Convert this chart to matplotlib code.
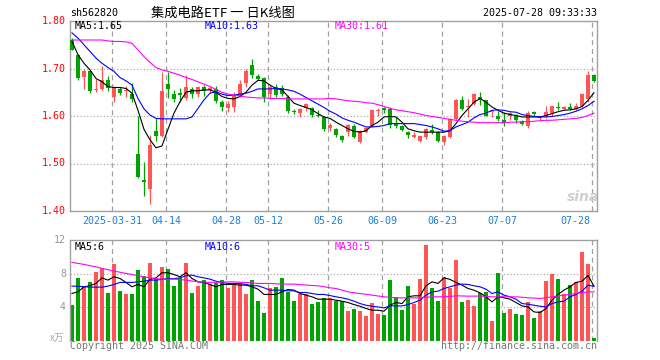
import matplotlib
matplotlib.use("Agg")
import matplotlib.pyplot as plt

# ---- data (index 0 = 2025-03-20) ----
opens = [1.760, 1.729, 1.683, 1.694, 1.655, 1.657, 1.676, 1.640, 1.657, 1.652,
         1.646, 1.520, 1.466, 1.446, 1.568, 1.558, 1.667, 1.646, 1.648, 1.637,
         1.656, 1.647, 1.662, 1.654, 1.656, 1.629, 1.617, 1.620, 1.643, 1.669,
         1.708, 1.685, 1.679, 1.646, 1.662, 1.659, 1.641, 1.610, 1.606, 1.616,
         1.616, 1.603, 1.598, 1.574, 1.572, 1.557, 1.566, 1.580, 1.545, 1.567,
         1.578, 1.610, 1.617, 1.615, 1.584, 1.580, 1.567, 1.555, 1.548, 1.555,
         1.570, 1.567, 1.545, 1.555, 1.594, 1.633, 1.620, 1.626, 1.641, 1.633,
         1.609, 1.601, 1.592, 1.601, 1.603, 1.589, 1.578, 1.608, 1.596, 1.599,
         1.606, 1.620, 1.615, 1.619, 1.615, 1.622, 1.636, 1.687]
closes = [1.740, 1.680, 1.694, 1.653, 1.657, 1.676, 1.660, 1.660, 1.648, 1.654,
          1.636, 1.471, 1.462, 1.538, 1.558, 1.653, 1.656, 1.636, 1.645, 1.662,
          1.646, 1.662, 1.653, 1.659, 1.632, 1.620, 1.626, 1.643, 1.668, 1.694,
          1.686, 1.678, 1.639, 1.662, 1.644, 1.646, 1.610, 1.608, 1.615, 1.625,
          1.603, 1.600, 1.572, 1.581, 1.559, 1.550, 1.580, 1.555, 1.568, 1.574,
          1.613, 1.613, 1.613, 1.582, 1.580, 1.570, 1.559, 1.561, 1.557, 1.572,
          1.567, 1.548, 1.557, 1.594, 1.633, 1.615, 1.622, 1.647, 1.634, 1.601,
          1.611, 1.594, 1.586, 1.607, 1.591, 1.584, 1.607, 1.605, 1.597, 1.608,
          1.622, 1.617, 1.619, 1.615, 1.622, 1.647, 1.687, 1.674]
highs = [1.765, 1.731, 1.698, 1.695, 1.677, 1.706, 1.684, 1.662, 1.662, 1.663,
         1.670, 1.600, 1.503, 1.561, 1.596, 1.692, 1.692, 1.655, 1.660, 1.686,
         1.662, 1.664, 1.666, 1.664, 1.664, 1.634, 1.632, 1.650, 1.675, 1.698,
         1.721, 1.688, 1.682, 1.665, 1.668, 1.665, 1.645, 1.614, 1.617, 1.627,
         1.618, 1.612, 1.600, 1.585, 1.575, 1.560, 1.584, 1.584, 1.570, 1.577,
         1.615, 1.617, 1.619, 1.618, 1.598, 1.582, 1.569, 1.567, 1.558, 1.575,
         1.583, 1.568, 1.560, 1.596, 1.635, 1.643, 1.636, 1.649, 1.650, 1.633,
         1.611, 1.610, 1.608, 1.609, 1.605, 1.591, 1.610, 1.611, 1.601, 1.621,
         1.622, 1.629, 1.622, 1.627, 1.627, 1.649, 1.694, 1.688]
lows = [1.738, 1.676, 1.657, 1.648, 1.651, 1.655, 1.652, 1.630, 1.645, 1.641,
        1.630, 1.469, 1.432, 1.414, 1.548, 1.555, 1.637, 1.630, 1.630, 1.634,
        1.637, 1.640, 1.642, 1.648, 1.628, 1.610, 1.609, 1.608, 1.640, 1.662,
        1.680, 1.675, 1.630, 1.636, 1.640, 1.642, 1.606, 1.604, 1.598, 1.611,
        1.598, 1.598, 1.568, 1.568, 1.556, 1.546, 1.558, 1.553, 1.543, 1.564,
        1.577, 1.601, 1.607, 1.575, 1.575, 1.569, 1.553, 1.554, 1.546, 1.552,
        1.562, 1.546, 1.538, 1.553, 1.591, 1.612, 1.598, 1.624, 1.624, 1.599,
        1.597, 1.590, 1.580, 1.592, 1.586, 1.582, 1.575, 1.600, 1.592, 1.595,
        1.601, 1.613, 1.613, 1.613, 1.613, 1.619, 1.629, 1.671]

ma5 = [1.757, 1.729, 1.711, 1.697, 1.679, 1.672, 1.662, 1.660, 1.660, 1.658,
       1.648, 1.612, 1.572, 1.550, 1.533, 1.537, 1.572, 1.606, 1.630, 1.650,
       1.653, 1.653, 1.655, 1.655, 1.650, 1.641, 1.637, 1.636, 1.641, 1.650,
       1.665, 1.675, 1.674, 1.665, 1.658, 1.655, 1.641, 1.627, 1.622, 1.618,
       1.613, 1.605, 1.598, 1.595, 1.587, 1.580, 1.573, 1.568, 1.566, 1.569,
       1.580, 1.587, 1.598, 1.599, 1.598, 1.587, 1.573, 1.569, 1.566, 1.566,
       1.566, 1.566, 1.566, 1.569, 1.584, 1.601, 1.615, 1.629, 1.637, 1.629,
       1.619, 1.612, 1.606, 1.603, 1.601, 1.598, 1.598, 1.598, 1.598, 1.601,
       1.605, 1.609, 1.612, 1.613, 1.615, 1.620, 1.633, 1.649]
ma10 = [1.775, 1.764, 1.750, 1.736, 1.722, 1.711, 1.702, 1.694, 1.681, 1.674,
        1.665, 1.637, 1.615, 1.602, 1.595, 1.594, 1.594, 1.594, 1.594, 1.594,
        1.598, 1.616, 1.634, 1.648, 1.651, 1.646, 1.643, 1.644, 1.646, 1.648,
        1.652, 1.657, 1.657, 1.657, 1.658, 1.657, 1.655, 1.652, 1.646, 1.639,
        1.632, 1.625, 1.618, 1.610, 1.604, 1.596, 1.591, 1.587, 1.582, 1.577,
        1.577, 1.578, 1.580, 1.584, 1.584, 1.584, 1.584, 1.584, 1.582, 1.580,
        1.577, 1.573, 1.568, 1.569, 1.577, 1.582, 1.587, 1.596, 1.603, 1.606,
        1.612, 1.613, 1.612, 1.609, 1.608, 1.603, 1.601, 1.599, 1.598, 1.598,
        1.599, 1.601, 1.603, 1.606, 1.610, 1.615, 1.622, 1.631]
ma30 = [1.760, 1.760, 1.760, 1.760, 1.760, 1.760, 1.758, 1.757, 1.757, 1.756,
        1.753, 1.739, 1.725, 1.713, 1.702, 1.697, 1.694, 1.690, 1.686, 1.681,
        1.677, 1.672, 1.667, 1.662, 1.656, 1.650, 1.646, 1.644, 1.642, 1.640,
        1.639, 1.638, 1.638, 1.637, 1.637, 1.637, 1.636, 1.636, 1.636, 1.636,
        1.636, 1.636, 1.636, 1.637, 1.636, 1.634, 1.632, 1.631, 1.630, 1.628,
        1.627, 1.624, 1.620, 1.616, 1.613, 1.611, 1.609, 1.607, 1.604, 1.601,
        1.599, 1.597, 1.595, 1.593, 1.591, 1.589, 1.588, 1.587, 1.586, 1.586,
        1.586, 1.586, 1.586, 1.587, 1.587, 1.588, 1.588, 1.589, 1.590, 1.591,
        1.591, 1.592, 1.593, 1.594, 1.595, 1.597, 1.601, 1.606]

volumes = [4.25, 7.5, 6.44, 7.03, 8.22, 8.63, 5.72, 9.14, 5.96, 5.57,
           5.57, 8.43, 7.7, 9.30, 7.32, 8.78, 8.58, 6.52, 7.5, 9.30,
           5.72, 6.52, 7.23, 6.72, 6.84, 7.23, 6.24, 6.64, 6.84, 5.64,
           7.23, 4.73, 3.34, 6.24, 6.44, 7.5, 5.84, 4.73, 5.64, 5.64,
           4.37, 4.65, 5.13, 5.05, 4.73, 4.73, 3.54, 3.78, 3.54, 2.98,
           4.49, 3.26, 3.14, 7.23, 5.17, 3.66, 6.52, 4.45, 7.35, 11.4,
           6.32, 4.73, 7.55, 6.32, 9.62, 4.65, 4.85, 4.17, 5.76, 5.84,
           2.35, 8.03, 3.34, 3.78, 3.18, 3.06, 4.65, 2.74, 3.58, 7.15,
           7.95, 7.35, 5.57, 6.64, 6.96, 10.6, 9.14, 0.4]
vma5 = [5.65, 5.84, 6.44, 6.56, 6.84, 7.5, 7.23, 7.63, 7.43, 6.96,
        6.44, 6.72, 6.44, 7.32, 7.5, 8.11, 8.11, 7.9, 7.63, 8.11,
        7.43, 7.03, 6.96, 6.72, 6.44, 6.72, 6.72, 6.72, 6.64, 6.64,
        6.44, 6.16, 5.53, 5.53, 5.53, 5.84, 6.12, 6.04, 5.64, 5.45,
        5.25, 4.97, 4.97, 4.97, 4.85, 4.73, 4.57, 4.33, 4.13, 3.86,
        3.66, 3.66, 3.54, 4.25, 4.57, 4.45, 5.25, 5.37, 5.37, 6.56,
        7.03, 6.84, 7.5, 7.32, 6.96, 6.64, 6.24, 6.04, 5.72, 5.25,
        4.65, 5.25, 5.13, 4.97, 4.57, 4.17, 4.05, 3.46, 3.38, 3.86,
        4.85, 5.53, 6.04, 6.44, 6.96, 7.1, 7.8, 6.5]
vma10 = [6.52, 6.5, 6.45, 6.4, 6.4, 6.4, 6.52, 6.72, 6.96, 6.96,
         6.96, 7.03, 7.1, 7.23, 7.23, 7.32, 7.43, 7.4, 7.5, 7.75,
         7.83, 7.63, 7.5, 7.35, 7.1, 6.96, 6.84, 6.84, 6.84, 6.72,
         6.56, 6.56, 6.32, 6.04, 6.04, 6.04, 5.96, 5.96, 5.76, 5.76,
         5.64, 5.53, 5.53, 5.40, 5.25, 5.13, 4.97, 4.73, 4.45, 4.25,
         4.13, 4.05, 3.93, 4.17, 4.17, 4.17, 4.33, 4.57, 4.85, 5.45,
         5.84, 5.92, 6.24, 6.44, 6.64, 6.76, 6.72, 6.56, 6.44, 6.16,
         5.64, 5.84, 5.45, 5.25, 4.97, 4.45, 4.37, 4.25, 4.13, 4.05,
         4.45, 4.65, 4.73, 5.25, 5.53, 5.92, 6.64, 6.5]
vma30 = [9.34, 9.22, 9.1, 8.95, 8.8, 8.63, 8.47, 8.31, 8.17, 8.03,
         7.9, 7.75, 7.62, 7.5, 7.42, 7.35, 7.35, 7.35, 7.3, 7.23,
         7.13, 7.03, 7.0, 6.96, 6.98, 7.0, 7.02, 7.03, 6.98, 6.96,
         6.9, 6.84, 6.84, 6.84, 6.8, 6.76, 6.76, 6.76, 6.7, 6.64,
         6.6, 6.56, 6.45, 6.32, 6.24, 6.05, 5.84, 5.74, 5.64, 5.55,
         5.45, 5.35, 5.25, 5.2, 5.13, 5.13, 5.13, 5.13, 5.13, 5.2,
         5.25, 5.25, 5.25, 5.3, 5.37, 5.35, 5.33, 5.33, 5.33, 5.3,
         5.25, 5.25, 5.25, 5.25, 5.25, 5.2, 5.13, 5.1, 5.05, 5.15,
         5.25, 5.35, 5.45, 5.55, 5.64, 5.74, 5.84, 5.84]

tick_idx = [7, 16, 26, 33, 43, 52, 62, 72, 87]
tick_labels = ["2025-03-31", "04-14", "04-28", "05-12", "05-26",
               "06-09", "06-23", "07-07", "07-28"]
price_ticks = [1.40, 1.50, 1.60, 1.70, 1.80]
vol_ticks = [4, 8, 12]

RED = "#ff5555"
GREEN = "#00a400"
FRAME = "#a0a0a0"
MONO = "DejaVu Sans Mono"

W, H = 660, 360
fig = plt.figure(figsize=(6.6, 3.6), dpi=100)


def px(x, y):
    return x / W, 1 - y / H


ax = fig.add_axes([70 / W, 1 - 211 / H, 527 / W, 190 / H])
axv = fig.add_axes([70 / W, 1 - 341 / H, 527 / W, 101 / H])

xs = list(range(len(closes)))
colors = [RED if c >= o else GREEN for o, c in zip(opens, closes)]

for a in (ax, axv):
    a.set_xlim(-0.33, 87.5)
    for t in tick_idx:
        a.axvline(t - 0.3, color=FRAME, lw=0.9, ls=(0, (4, 3)), zorder=0)
    for s in a.spines.values():
        s.set_color(FRAME)
        s.set_linewidth(1.0)
    a.set_xticks([])
    a.set_yticks([])
axv.spines["bottom"].set_visible(False)

# price panel
ax.set_ylim(1.40, 1.80)
for g in [1.50, 1.60, 1.70]:
    ax.axhline(g, color=FRAME, lw=0.8, ls=(0, (1, 2)), zorder=0)
ax.vlines(xs, lows, highs, colors=colors, lw=0.9, zorder=2)
bodies = [max(abs(c - o), 0.0015) for o, c in zip(opens, closes)]
bottoms = [min(o, c) for o, c in zip(opens, closes)]
ax.bar(xs, bodies, bottom=bottoms, width=0.8, color=colors, lw=0, zorder=3)
ax.plot(xs, ma5, color="black", lw=0.8, zorder=4)
ax.plot(xs, ma10, color="#0000ff", lw=0.8, zorder=4)
ax.plot(xs, ma30, color="#ff00ff", lw=0.8, zorder=4)

# volume panel
axv.set_ylim(0, 12)
for g in [4, 8]:
    axv.axhline(g, color=FRAME, lw=0.8, ls=(0, (1, 2)), zorder=0)
axv.bar(xs, volumes, width=0.8, color=colors, lw=0, zorder=2)
axv.plot(xs, vma5, color="black", lw=0.8, zorder=4)
axv.plot(xs, vma10, color="#0000ff", lw=0.8, zorder=4)
axv.plot(xs, vma30, color="#ff00ff", lw=0.8, zorder=4)

# y labels
for p in price_ticks:
    y = 211 - (p - 1.40) / 0.40 * 190
    fig.text(*px(66, y), f"{p:.2f}", color="#ff0000", ha="right", va="center",
             fontsize=7.2, family=MONO)
for v in vol_ticks:
    y = 341 - v / 12 * 101
    fig.text(*px(66, y), str(v), color="#999999", ha="right", va="center",
             fontsize=7.2, family=MONO)
fig.text(*px(64, 338), "x万", color="#aaaaaa", ha="right", va="center",
         fontsize=7, family=["Noto Sans CJK SC", "DejaVu Sans"], style="italic")

# date labels
for t, lab in zip(tick_idx, tick_labels):
    x = 72 + 6 * t - 1.8
    if t == tick_idx[-1]:
        fig.text(*px(x - 2, 221), lab, color="#1a7fd8", ha="right", va="center",
                 fontsize=7.2, family=MONO)
    else:
        fig.text(*px(x, 221), lab, color="#1a7fd8", ha="center", va="center",
                 fontsize=7.2, family=MONO)

# header
fig.text(*px(70, 13), "sh562820", color="black", ha="left", va="center",
         fontsize=7.2, family=MONO)
fig.text(*px(223, 13), "集成电路ETF 一 日K线图", color="black", ha="center",
         va="center", fontsize=9.5, family=["Noto Sans CJK SC", "DejaVu Sans"])
fig.text(*px(597, 12.5), "2025-07-28 09:33:33", color="black", ha="right",
         va="center", fontsize=7.2, family=MONO)

# MA legends
fig.text(*px(75, 26), "MA5:1.65", color="black", ha="left", va="center",
         fontsize=7.2, family=MONO)
fig.text(*px(205, 26), "MA10:1.63", color="#0000ff", ha="left", va="center",
         fontsize=7.2, family=MONO)
fig.text(*px(335, 26), "MA30:1.61", color="#ff00ff", ha="left", va="center",
         fontsize=7.2, family=MONO)
fig.text(*px(75, 247), "MA5:6", color="black", ha="left", va="center",
         fontsize=7.2, family=MONO)
fig.text(*px(205, 247), "MA10:6", color="#0000ff", ha="left", va="center",
         fontsize=7.2, family=MONO)
fig.text(*px(335, 247), "MA30:5", color="#ff00ff", ha="left", va="center",
         fontsize=7.2, family=MONO)

# footer
fig.text(*px(70, 346), "Copyright 2025 SINA.COM", color="#777777", ha="left",
         va="center", fontsize=7.2, family=MONO)
fig.text(*px(597, 346), "http://finance.sina.com.cn", color="#777777",
         ha="right", va="center", fontsize=7.2, family=MONO)

# watermark
fig.text(*px(583, 197), "sina", color="#cfcfcf", ha="center", va="center",
         fontsize=10, weight="bold", style="italic", family="DejaVu Sans")

fig.savefig("out.png", dpi=100)
